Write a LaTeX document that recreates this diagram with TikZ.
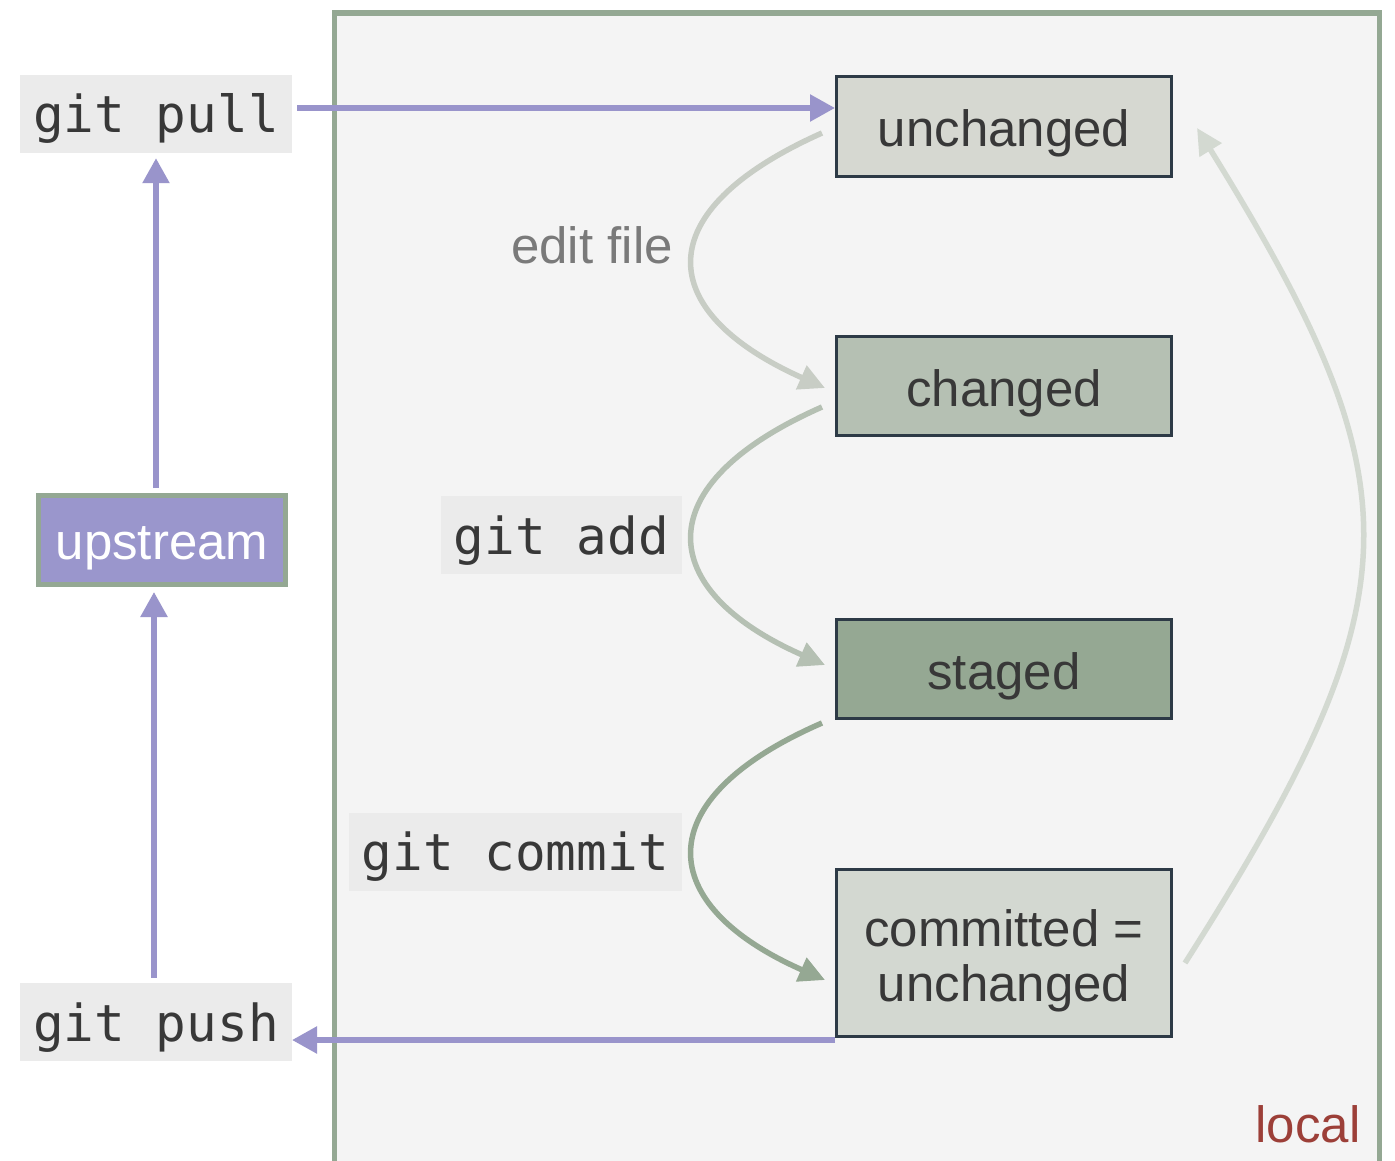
\documentclass[tikz,border=0pt]{standalone}
\usepackage{fontspec}
\setmainfont{Liberation Sans}
\setmonofont{DejaVu Sans Mono}
\usetikzlibrary{arrows.meta,calc}

\definecolor{frameline}{HTML}{94A893}
\definecolor{framefill}{HTML}{F4F4F4}
\definecolor{cmdfill}{HTML}{EBEBEB}
\definecolor{ink}{HTML}{383838}
\definecolor{remotecol}{HTML}{9994CB}
\definecolor{upfill}{HTML}{9A96CC}
\definecolor{boxline}{HTML}{2D3A46}
\definecolor{unchfill}{HTML}{D6D8D1}
\definecolor{chfill}{HTML}{B5C0B3}
\definecolor{stfill}{HTML}{95A893}
\definecolor{cmfill}{HTML}{D3D8D1}
\definecolor{editcol}{HTML}{C8CDC5}
\definecolor{addcol}{HTML}{B5C0B3}
\definecolor{commitcol}{HTML}{95A893}
\definecolor{backcol}{HTML}{D3D9D1}
\definecolor{localred}{HTML}{9C3F38}
\definecolor{labelgray}{HTML}{7A7A7A}

\newcommand{\bigsans}{\fontsize{51}{55}\selectfont}
\newcommand{\bigmono}{\ttfamily\fontsize{51}{55}\selectfont}

\begin{document}
\begin{tikzpicture}[x=1pt,y=-1pt,
  state/.style={draw=boxline, line width=3pt, minimum width=335pt,
    minimum height=99pt, inner sep=0pt, font=\bigsans, text=ink,
    align=center, text height=41pt, text depth=0pt},
  cmd/.style={fill=cmdfill, font=\bigmono, text=ink, inner xsep=13pt,
    inner ysep=0pt, minimum height=78pt, text height=44pt, text depth=6pt},
  remote/.style={draw=remotecol, line width=5.5pt,
    -{Triangle[length=25pt,width=26pt]}},
  flow/.style={line width=5.5pt, -{Triangle[length=26pt,width=25pt]}}]

\useasboundingbox (0,0) rectangle (1395,1161);
\fill[white] (0,0) rectangle (1395,1161);

% local working copy area
\draw[frameline, line width=5.5pt, fill=framefill]
  (334.5,13) rectangle (1379.5,1200);
\node[font=\bigsans, text=localred, anchor=base east] (local) at (1364,1142) {local};

% file states
\node[state, fill=unchfill, minimum height=100pt] (unch) at (1004,126.5) {unchanged};
\node[state, fill=chfill] (chg) at (1004,386) {changed};
\node[state, fill=stfill] (stg) at (1004,669) {staged};
\node[state, fill=cmfill, minimum height=167pt, text height=96pt] (cmt) at (1004,953)
  {committed =\\unchanged};

% commands
\node[cmd] (gitpull) at (156,114) {git pull};
\node[cmd] (gitpush) at (156,1022) {git push};
\node[cmd, anchor=east] (gitadd) at (682,535) {git add};
\node[cmd, anchor=east] (gitcommit) at (682,851.5) {git commit};
\node[font=\bigsans, text=labelgray, text height=41pt, text depth=0pt,
  inner sep=0pt] (editfile) at (592,242.5) {edit file};

% remote repository
\node[draw=frameline, line width=5pt, fill=upfill, text=white, font=\bigsans,
  minimum width=247pt, minimum height=89pt, inner sep=0pt,
  text height=38pt, text depth=0pt] (upstream) at (162,540) {upstream};

% local transitions
\draw[flow, draw=editcol]
  ($(unch.west)+(-13,6.5)$) .. controls +(-177,79) and +(-170,-76) ..
  ($(chg.west)+(-10,2)$);
\draw[flow, draw=addcol]
  ($(chg.west)+(-13,21)$) .. controls +(-177,78) and +(-170,-75) ..
  ($(stg.west)+(-10,-4)$);
\draw[flow, draw=commitcol]
  ($(stg.west)+(-13,54)$) .. controls +(-177,77) and +(-170,-75) ..
  ($(cmt.west)+(-10,27)$);
\draw[flow, draw=backcol]
  ($(cmt.east)+(12,10)$) .. controls +(234,-368) and +(222,359) ..
  ($(unch.east)+(24,1.5)$);

% remote transfers
\coordinate (pullout) at ($(gitpull.east)+(5,-6)$);
\draw[remote] (pullout) -- (pullout -| unch.west);
\draw[remote] ($(upstream.north -| gitpull.south)+(0,-5)$) -- ($(gitpull.south)+(0,5)$);
\draw[remote] ($(gitpush.north)+(-2,-5)$) -- ($(upstream.south -| gitpush.north)+(-2,5)$);
\coordinate (pushin) at ($(cmt.south west)+(0,2)$);
\draw[remote] (pushin) -- (pushin -| gitpush.east);

\end{tikzpicture}
\end{document}
